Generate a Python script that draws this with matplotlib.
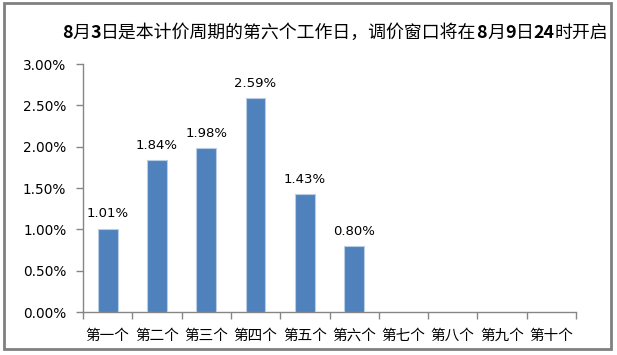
import matplotlib
matplotlib.use("Agg")
import matplotlib.pyplot as plt
from matplotlib.patches import Rectangle
from matplotlib.ticker import FuncFormatter, FixedLocator

categories = ["第一个", "第二个", "第三个", "第四个", "第五个", "第六个", "第七个", "第八个", "第九个", "第十个"]
values = [1.01, 1.84, 1.98, 2.59, 1.43, 0.80]
title = "8月3日是本计价周期的第六个工作日，调价窗口将在8月9日24时开启"

plt.rcParams['font.family'] = ['Noto Sans CJK SC', 'DejaVu Sans']

W, H = 617, 355
fig = plt.figure(figsize=(W/100, H/100), dpi=100)
fig.patch.set_facecolor("white")

ax = fig.add_axes([83/W, 1-312/H, (576-83)/W, (312-64)/H])
x = list(range(len(values)))
ax.bar(x, values, width=0.4, color="#4F81BD", edgecolor="#B9CDE5", linewidth=0.8, zorder=3)
for xi, v in zip(x, values):
    ax.text(xi, v + 0.1, f"{v:.2f}%", ha="center", va="bottom", fontsize=9.5,
            family="DejaVu Sans", color="black")

ax.set_xlim(-0.5, len(categories) - 0.5)
ax.set_ylim(0, 3.0)
ax.set_yticks([0, 0.5, 1.0, 1.5, 2.0, 2.5, 3.0])
ax.yaxis.set_major_formatter(FuncFormatter(lambda v, p: f"{v:.2f}%"))
for lab in ax.get_yticklabels():
    lab.set_fontfamily("DejaVu Sans")
    lab.set_fontsize(9.8)

ax.set_xticks(range(len(categories)))
ax.set_xticklabels(categories, fontsize=10.5)
ax.xaxis.set_minor_locator(FixedLocator([i - 0.5 for i in range(len(categories) + 1)]))
ax.tick_params(axis="x", which="major", length=0, pad=12)
ax.tick_params(axis="x", which="minor", length=5, color="#868686", width=1)
ax.tick_params(axis="y", length=5, color="#868686", width=1, pad=7)

for s in ["top", "right"]:
    ax.spines[s].set_visible(False)
for s in ["left", "bottom"]:
    ax.spines[s].set_color("#868686")
    ax.spines[s].set_linewidth(1)

# Title: digits bold, Chinese regular, drawn as consecutive runs
runs = []
for ch in title:
    bold = ch.isdigit()
    if runs and runs[-1][1] == bold:
        runs[-1][0] += ch
    else:
        runs.append([ch, bold])
renderer = fig.canvas.get_renderer()
xpos = 62
for txt, bold in runs:
    t = fig.text(xpos/W, 1-33/H, txt, fontsize=12.9, ha="left", va="center",
                 color="black", fontweight="bold" if bold else "normal")
    bb = t.get_window_extent(renderer=renderer)
    xpos += bb.width

fig.add_artist(Rectangle((4/W, 1-349/H), (611-4)/W, (349-3)/H, transform=fig.transFigure,
                         fill=False, edgecolor="#808080", linewidth=2, zorder=10))

fig.savefig("out.png", dpi=100)
